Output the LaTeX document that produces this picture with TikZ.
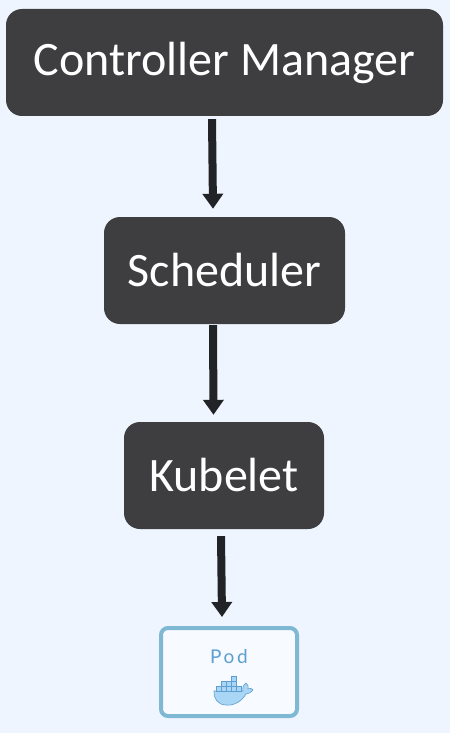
\documentclass[tikz,border=0pt]{standalone}
\usepackage{fontspec}
\setmainfont{Carlito}
\newfontfamily\podfont[LetterSpace=14]{Lato}
\usetikzlibrary{arrows.meta}
\definecolor{pagebg}{HTML}{EEF5FF}
\definecolor{boxfill}{HTML}{3E3E40}
\definecolor{arrowcol}{HTML}{222327}
\definecolor{podline}{HTML}{7FB8D2}
\definecolor{podfill}{HTML}{F7FAFF}
\definecolor{whalefill}{HTML}{A9D6F5}
\definecolor{whaleline}{HTML}{5C9FD0}
\begin{document}
\begin{tikzpicture}[x=1pt,y=-1pt]
  \tikzstyle{comp}=[fill=boxfill, text=white, rounded corners=16pt, inner sep=0pt, font=\fontsize{48}{52}\selectfont, minimum height=107pt]
  \tikzstyle{flow}=[draw=arrowcol, line width=8pt, -{Triangle[width=20pt,length=15pt]}]
  \tikzstyle{crate}=[draw=whaleline, fill=whalefill, line width=0.5pt]
  \useasboundingbox[fill=pagebg] (0,0) rectangle (450,733);
  \node[comp, minimum width=437pt] (manager) at (224.5,62.5) {Controller Manager};
  \node[comp, minimum width=241pt] (scheduler) at (224.5,270.5) {Scheduler};
  \node[comp, minimum width=200pt] (kubelet) at (224,475.5) {Kubelet};
  \node[draw=podline, fill=podfill, line width=4pt, rounded corners=7pt, minimum width=136pt, minimum height=88pt] (pod) at (229,672) {};
  \node[text=whaleline, font=\podfont\fontsize{19}{22}\selectfont] (podlabel) at (229,657) {Pod};
  \draw[flow] ([xshift=-12.5pt,yshift=-3pt]manager.south) -- ([xshift=-11.5pt,yshift=8pt]scheduler.north);
  \draw[flow] ([xshift=-11.5pt,yshift=-1pt]scheduler.south) -- ([xshift=-10.5pt,yshift=7pt]kubelet.north);
  \draw[flow] ([xshift=-3pt,yshift=-7pt]kubelet.south) -- ([xshift=-7pt,yshift=9pt]pod.north);
  % whale
  \draw[whaleline, fill=whalefill, line width=0.6pt] (214,691) -- (243,691) .. controls (242,687) and (244,684) .. (246,683) .. controls (248,685) and (249,687) .. (248,689) .. controls (250,688) and (252,688) .. (253,690) .. controls (250,693) and (248,694) .. (246,694) .. controls (242,701) and (234,706) .. (226,705) .. controls (218,705) and (213,698) .. (214,691) -- cycle;
  \foreach \x in {216,221,226,231,236} \draw[crate] (\x,686) rectangle +(5,5);
  \foreach \x in {221,226,231} \draw[crate] (\x,681) rectangle +(5,5);
  \draw[crate] (231,676) rectangle +(5,5);
\end{tikzpicture}
\end{document}
